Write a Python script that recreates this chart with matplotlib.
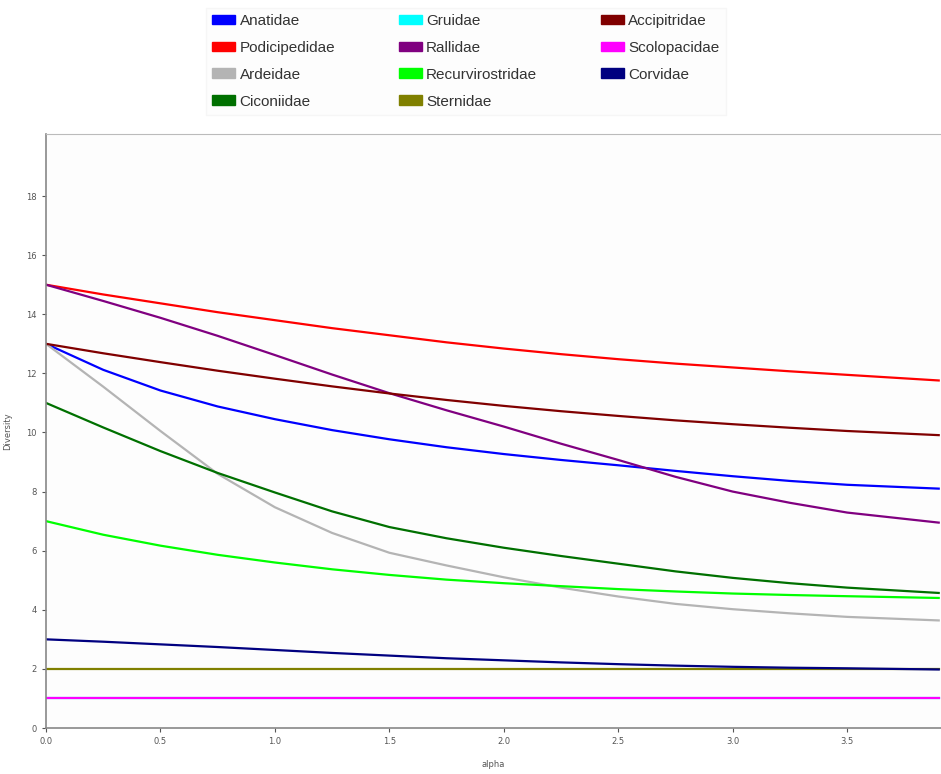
import matplotlib.pyplot as plt
from matplotlib.patches import Patch

alpha = [0.0, 0.25, 0.5, 0.75, 1.0, 1.25, 1.5, 1.75, 2.0, 2.25, 2.5, 2.75,
         3.0, 3.25, 3.5, 3.9]

families = ['Anatidae', 'Podicipedidae', 'Ardeidae', 'Ciconiidae',
            'Gruidae', 'Rallidae', 'Recurvirostridae', 'Sternidae',
            'Accipitridae', 'Scolopacidae', 'Corvidae']

anatidae = [13.0, 12.12, 11.42, 10.88, 10.45, 10.08, 9.77, 9.5, 9.27, 9.07,
            8.89, 8.7, 8.52, 8.36, 8.23, 8.1]
podicipedidae = [15.0, 14.67, 14.37, 14.07, 13.8, 13.53, 13.29, 13.05, 12.84,
                 12.65, 12.48, 12.33, 12.2, 12.07, 11.95, 11.76]
ardeidae = [13.0, 11.55, 10.05, 8.6, 7.47, 6.6, 5.93, 5.5, 5.1, 4.75,
            4.45, 4.2, 4.02, 3.88, 3.76, 3.64]
ciconiidae = [11.0, 10.17, 9.37, 8.63, 7.97, 7.33, 6.8, 6.42, 6.1, 5.82,
              5.56, 5.3, 5.08, 4.9, 4.75, 4.57]
gruidae = [1.0] * 16
rallidae = [15.0, 14.45, 13.88, 13.27, 12.62, 11.96, 11.33, 10.75, 10.2, 9.62,
            9.07, 8.5, 8.0, 7.62, 7.29, 6.95]
recurvirostridae = [7.0, 6.54, 6.17, 5.86, 5.6, 5.37, 5.18, 5.02, 4.9, 4.8,
                    4.7, 4.62, 4.55, 4.5, 4.46, 4.4]
sternidae = [2.0] * 16
accipitridae = [13.0, 12.68, 12.38, 12.09, 11.82, 11.56, 11.32, 11.1, 10.9,
                10.72, 10.56, 10.41, 10.28, 10.16, 10.05, 9.91]
scolopacidae = [1.0] * 16
corvidae = [3.0, 2.92, 2.83, 2.74, 2.64, 2.54, 2.45, 2.36, 2.29, 2.22, 2.16,
            2.11, 2.07, 2.04, 2.02, 1.98]

series = [anatidae, podicipedidae, ardeidae, ciconiidae, gruidae, rallidae,
          recurvirostridae, sternidae, accipitridae, scolopacidae, corvidae]
colors = ['#0000ff', '#ff0000', '#b4b4b4', '#007000', '#00ffff', '#800080',
          '#00ff00', '#808000', '#800000', '#ff00ff', '#000080']

fig = plt.figure(figsize=(9.41, 7.74), dpi=100)
fig.patch.set_facecolor('white')
ax = fig.add_axes([46/941, 1-728/774, 1-46/941, (728-134)/774])
ax.set_facecolor('#fdfdfd')

for vals, col in zip(series, colors):
    ax.plot(alpha, vals, color=col, lw=1.6)

ax.set_xlim(0, 3.91)
ax.set_ylim(0, 20.1)
ax.set_xticks([0.0, 0.5, 1.0, 1.5, 2.0, 2.5, 3.0, 3.5])
ax.set_xticklabels(['0.0', '0.5', '1.0', '1.5', '2.0', '2.5', '3.0', '3.5'])
ax.set_yticks(range(0, 19, 2))
ax.tick_params(labelsize=6, colors='#555555', length=3, width=0.8)
ax.set_xlabel('alpha', fontsize=6, color='#555555', labelpad=10)
ax.set_ylabel('Diversity', fontsize=6, color='#555555', labelpad=10)
for side in ['left', 'bottom']:
    ax.spines[side].set_color('#888888')
    ax.spines[side].set_linewidth(1.2)
ax.spines['top'].set_color('#bbbbbb')
ax.spines['right'].set_visible(False)

handles = [Patch(facecolor=c, edgecolor=c) for c in colors]
leg = fig.legend(handles, families, ncol=3, loc='upper center',
                 bbox_to_anchor=(0.495, 1.0), frameon=True,
                 prop={'family': ['Liberation Sans', 'DejaVu Sans'], 'size': 11},
                 fancybox=False, edgecolor='#f4f4f4', facecolor='#fdfdfd',
                 handlelength=1.5, handleheight=0.6, handletextpad=0.3,
                 columnspacing=4.15, labelspacing=0.85)
for t in leg.get_texts():
    t.set_color('#333333')

fig.savefig('out.png', dpi=100)
